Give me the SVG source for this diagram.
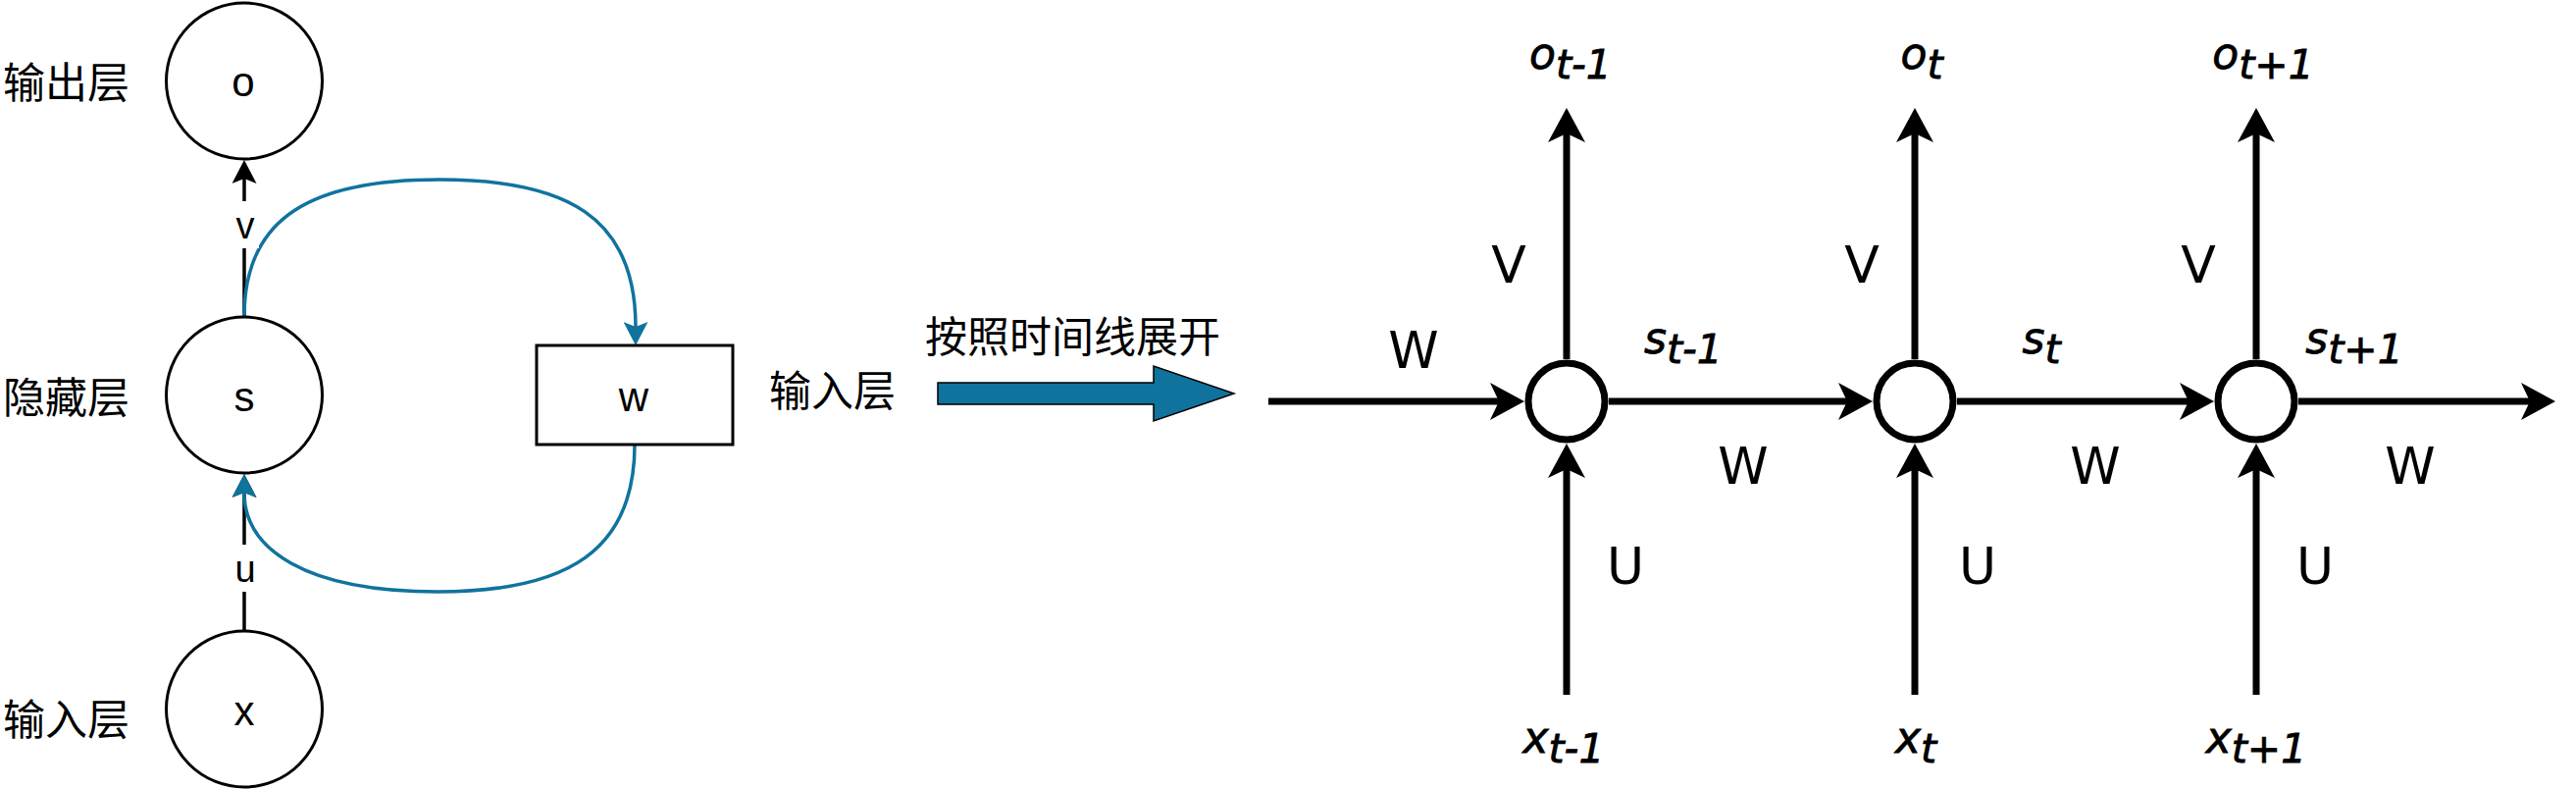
<svg xmlns="http://www.w3.org/2000/svg" width="2626" height="804" viewBox="0 0 2626 804">
<style>
.cjk{font-family:"Liberation Sans","Noto Sans CJK SC",sans-serif;font-size:43px;fill:#000}
.lat{font-family:"Liberation Sans",Arial,sans-serif;font-size:42px;fill:#000;text-anchor:middle}
.elab{font-family:"Liberation Sans",Arial,sans-serif;font-size:38px;fill:#000;text-anchor:middle}
.node{fill:#fff;stroke:#000;stroke-width:3}
.cell{fill:#fff;stroke:#000;stroke-width:7}
.ln{fill:none;stroke:#000;stroke-width:3.5}
.bl{fill:none;stroke:#10739E;stroke-width:3.5}
.th{fill:none;stroke:#000;stroke-width:7}
.cm{font-family:"DejaVu Sans",sans-serif;fill:#000;text-anchor:middle}
.big{font-size:52px}
.sym{font-size:44px;font-style:italic;stroke:#000;stroke-width:0.8}
.sub{font-size:41px;font-style:italic;stroke:#000;stroke-width:0.8}
</style>
<defs>
<marker id="ak" markerUnits="userSpaceOnUse" viewBox="0 0 24 25" markerWidth="24" markerHeight="25" refX="5" refY="12.5" orient="auto">
<path d="M0,0 L24,12.5 L0,25 L5,12.5 Z" fill="#000"/>
</marker>
<marker id="ab" markerUnits="userSpaceOnUse" viewBox="0 0 24 25" markerWidth="24" markerHeight="25" refX="5" refY="12.5" orient="auto">
<path d="M0,0 L24,12.5 L0,25 L5,12.5 Z" fill="#10739E"/>
</marker>
<marker id="aK" markerUnits="userSpaceOnUse" viewBox="0 0 35 38" markerWidth="35" markerHeight="38" refX="9" refY="19" orient="auto">
<path d="M0,0 L35,19 L0,38 L9,19 Z" fill="#000"/>
</marker>
</defs>
<rect width="2626" height="804" fill="#fff"/>

<g id="connectors">
<path class="ln" d="M249,322 L249,182" marker-end="url(#ak)"/>
<path class="ln" d="M249,642 L249,502" marker-end="url(#ak)"/>
<path class="bl" d="M249,322 C249,220 320,183 448,183 C576,183 648,220 648,333" marker-end="url(#ab)"/>
<path class="bl" d="M647,453 C647,560 580,603 446,603 C312,603 249,560 249,502" marker-end="url(#ab)"/>
<rect x="236" y="205" width="28" height="48" fill="#fff"/>
<text class="elab" x="250" y="243">v</text>
<rect x="236" y="555" width="28" height="48" fill="#fff"/>
<text class="elab" x="250" y="593">u</text>
<path class="th" d="M1293,409 L1528,409" marker-end="url(#aK)"/>
<path class="th" d="M1640,409 L1883,409" marker-end="url(#aK)"/>
<path class="th" d="M1995,409 L2231,409" marker-end="url(#aK)"/>
<path class="th" d="M2343,409 L2579,409" marker-end="url(#aK)"/>
<path class="th" d="M1597,366 L1597,136" marker-end="url(#aK)"/>
<path class="th" d="M1952,366 L1952,136" marker-end="url(#aK)"/>
<path class="th" d="M2300,366 L2300,136" marker-end="url(#aK)"/>
<path class="th" d="M1597,708 L1597,478" marker-end="url(#aK)"/>
<path class="th" d="M1952,708 L1952,478" marker-end="url(#aK)"/>
<path class="th" d="M2300,708 L2300,478" marker-end="url(#aK)"/>
<text class="cm big" x="1441" y="375">W</text>
<text class="cm big" x="1777" y="493">W</text>
<text class="cm big" x="2136" y="493">W</text>
<text class="cm big" x="2457" y="493">W</text>
<text class="cm big" x="1538" y="288">V</text>
<text class="cm big" x="1898" y="288">V</text>
<text class="cm big" x="2241" y="288">V</text>
<text class="cm big" x="1657" y="595">U</text>
<text class="cm big" x="2016" y="595">U</text>
<text class="cm big" x="2360" y="595">U</text>
</g>

<g id="node-o">
<circle class="node" cx="249" cy="82.5" r="79.5"/>
<text class="lat" x="248" y="98">o</text>
</g>
<g id="node-s">
<circle class="node" cx="249" cy="402.5" r="79.5"/>
<text class="lat" x="249" y="419">s</text>
</g>
<g id="node-x">
<circle class="node" cx="249" cy="722.5" r="79.5"/>
<text class="lat" x="249" y="739">x</text>
</g>
<g id="node-w">
<rect class="node" x="547" y="352" width="200" height="101"/>
<text class="lat" x="646" y="419">w</text>
</g>
<g id="label-output">
<text class="cjk" x="3" y="100">输出层</text>
</g>
<g id="label-hidden">
<text class="cjk" x="3" y="421">隐藏层</text>
</g>
<g id="label-input">
<text class="cjk" x="3" y="749">输入层</text>
</g>
<g id="label-input2">
<text class="cjk" x="784" y="414">输入层</text>
</g>
<g id="unroll-arrow">
<polygon points="956,390 1176,390 1176,373 1258,401 1176,429 1176,412 956,412" fill="#10739E" stroke="#000" stroke-width="1.5"/>
<text class="cjk" x="943" y="359">按照时间线展开</text>
</g>

<g id="cell-1">
<circle class="cell" cx="1597" cy="409" r="39"/>
</g>
<g id="cell-2">
<circle class="cell" cx="1952" cy="409" r="39"/>
</g>
<g id="cell-3">
<circle class="cell" cx="2300" cy="409" r="39"/>
</g>

<g id="out-labels">
<text class="cm" x="1601" y="70"><tspan class="sym">o</tspan><tspan class="sub" dy="10">t-1</tspan></text>
<text class="cm" x="1959" y="70"><tspan class="sym">o</tspan><tspan class="sub" dy="10">t</tspan></text>
<text class="cm" x="2307" y="70"><tspan class="sym">o</tspan><tspan class="sub" dy="10">t+1</tspan></text>
</g>
<g id="state-labels">
<text class="cm" x="1716" y="360"><tspan class="sym">s</tspan><tspan class="sub" dy="10">t-1</tspan></text>
<text class="cm" x="2081" y="360"><tspan class="sym">s</tspan><tspan class="sub" dy="10">t</tspan></text>
<text class="cm" x="2400" y="360"><tspan class="sym">s</tspan><tspan class="sub" dy="10">t+1</tspan></text>
</g>
<g id="in-labels">
<text class="cm" x="1594" y="767"><tspan class="sym">x</tspan><tspan class="sub" dy="10">t-1</tspan></text>
<text class="cm" x="1953" y="767"><tspan class="sym">x</tspan><tspan class="sub" dy="10">t</tspan></text>
<text class="cm" x="2300" y="767"><tspan class="sym">x</tspan><tspan class="sub" dy="10">t+1</tspan></text>
</g>
</svg>
